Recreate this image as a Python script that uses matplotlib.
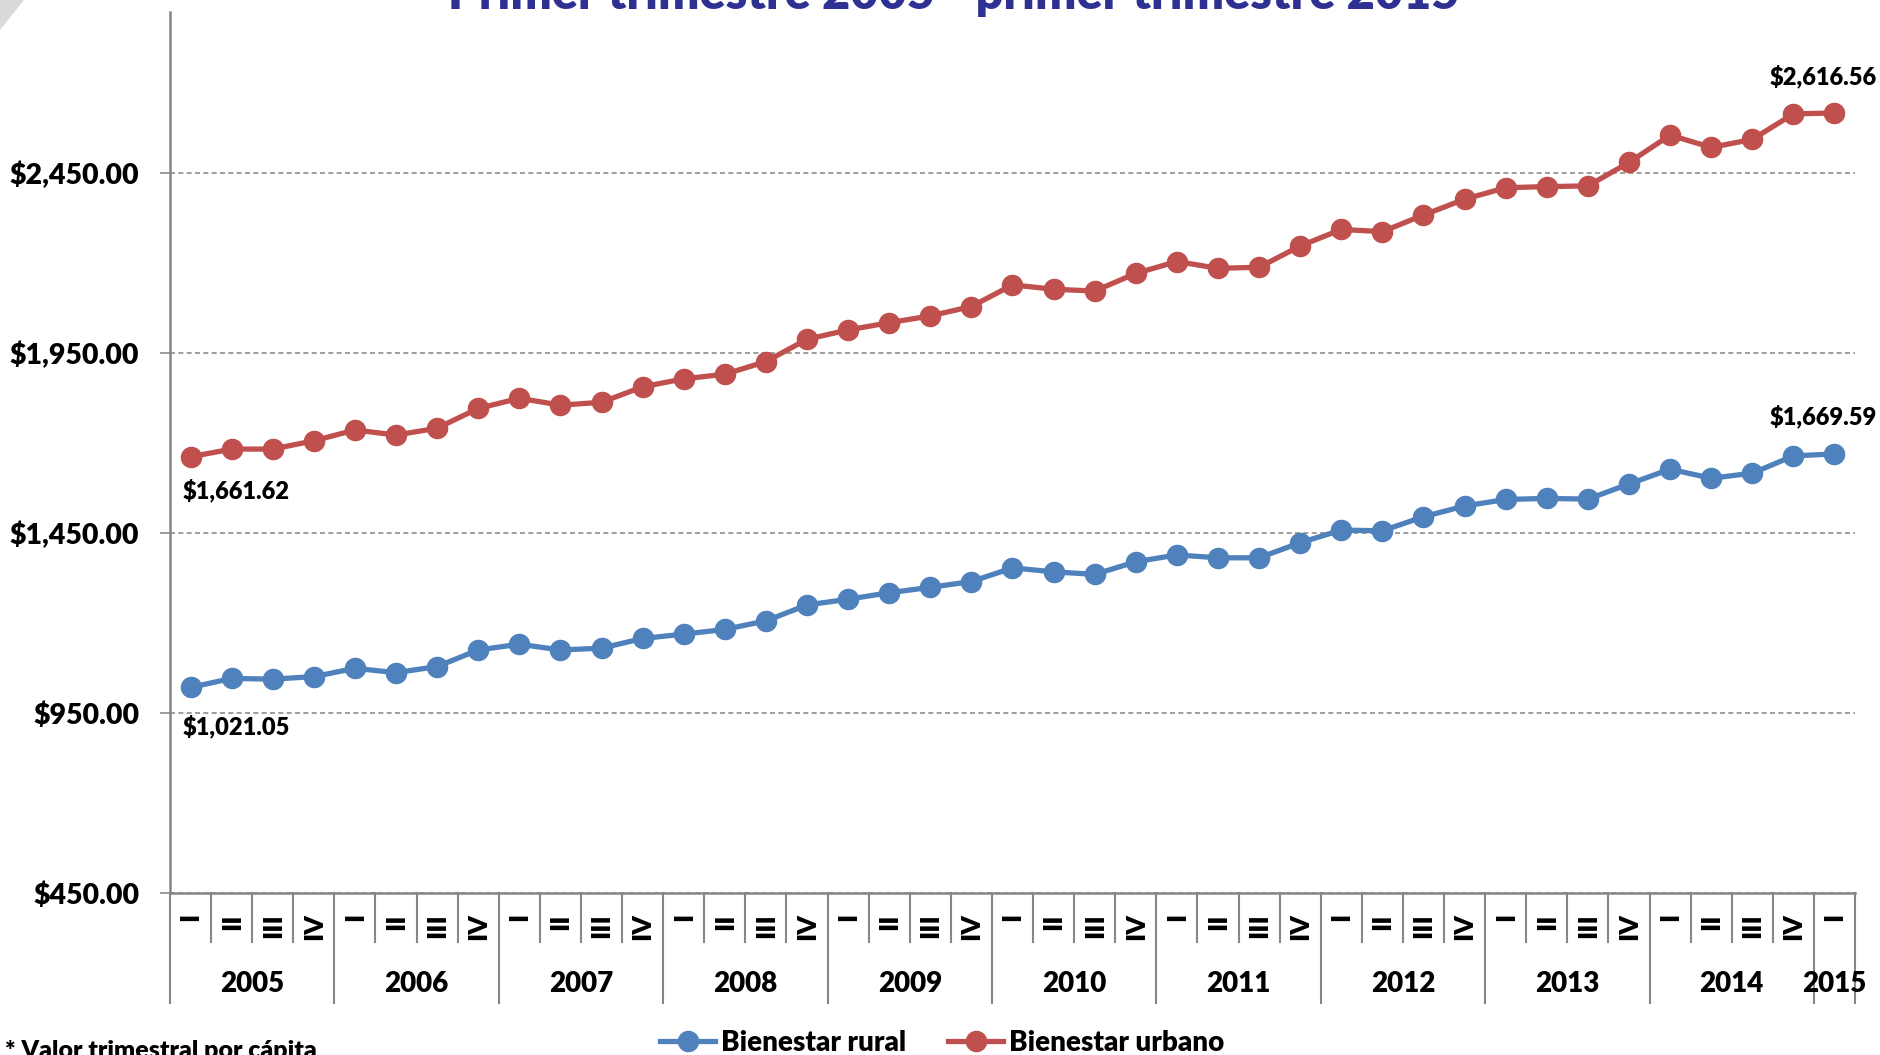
import matplotlib
matplotlib.use('Agg')
import matplotlib.pyplot as plt
from matplotlib.patches import Polygon

plt.rcParams['font.family'] = ['Lato', 'DejaVu Sans']

# ---------------- data ----------------
years = ['2005', '2006', '2007', '2008', '2009', '2010',
         '2011', '2012', '2013', '2014', '2015']
quarters = ['I', 'II', 'III', 'IV']

rural = [1021.05, 1046, 1044, 1051, 1074, 1062, 1079, 1125,
         1141, 1125, 1130, 1157, 1169, 1182, 1206, 1250,
         1266, 1284, 1299, 1315, 1353, 1342, 1335, 1370,
         1389, 1381, 1381, 1423, 1458, 1456, 1495, 1525,
         1543, 1546, 1544, 1586, 1627, 1602, 1616, 1664,
         1669.59]
urbano = [1661.62, 1683, 1683, 1706, 1736, 1722, 1741, 1796,
          1824, 1805, 1813, 1856, 1878, 1891, 1926, 1988,
          2014, 2034, 2053, 2079, 2139, 2127, 2122, 2171,
          2204, 2185, 2188, 2247, 2293, 2287, 2333, 2377,
          2409, 2412, 2414, 2479, 2555, 2521, 2543, 2614,
          2616.56]
yticks = [450, 950, 1450, 1950, 2450]
series_names = ['Bienestar rural', 'Bienestar urbano']
title = 'Primer trimestre 2005 - primer trimestre 2015'
footnote = '* Valor trimestral por cápita'

# ---------------- figure ----------------
W, H = 1881, 1055
fig = plt.figure(figsize=(W / 100, H / 100), dpi=100)
ax = fig.add_axes([170 / W, 1 - 893 / H, (1855 - 170) / W, (893 - 12) / H])

BLUE = '#4F81BD'
RED = '#C0504D'
GRAY = '#8c8c8c'

n = len(rural)
x = list(range(n))
ax.plot(x, rural, color=BLUE, lw=3.8, marker='o', ms=14.5,
        label=series_names[0], zorder=3)
ax.plot(x, urbano, color=RED, lw=3.8, marker='o', ms=14.5,
        label=series_names[1], zorder=3)

ax.set_xlim(-0.5, n - 0.5)
ax.set_ylim(450, 2897)
ax.set_yticks(yticks)
ax.set_yticklabels(['${:,.2f}'.format(v) for v in yticks],
                   fontsize=20.5, fontweight='heavy')
ax.set_xticks([])
ax.yaxis.grid(True, ls=(0, (3, 2)), color=GRAY, lw=1.2)
ax.set_axisbelow(True)
ax.tick_params(axis='y', length=7.2, width=1.2, color=GRAY, pad=15)

for s in ['top', 'right']:
    ax.spines[s].set_visible(False)
for s in ['left', 'bottom']:
    ax.spines[s].set_color('#868686')
    ax.spines[s].set_linewidth(1.8)

# ---------------- category axis ----------------
tr = ax.get_xaxis_transform()
axh = 893 - 12
yq = -(913 - 893) / axh
yy = -(984 - 893) / axh
yqsep = -(942 - 893) / axh
yysep = -(1003 - 893) / axh

for i in range(n):
    ax.text(i, yq, quarters[i % 4], transform=tr, rotation=90,
            ha='center', va='top', fontsize=19, fontweight='heavy')

for k, yr in enumerate(years):
    start = 4 * k
    end = min(4 * k + 3, n - 1)
    cx = (start + end) / 2
    ax.text(cx, yy, yr, transform=tr, ha='center', va='center',
            fontsize=20, fontweight='heavy')

for i in range(n + 1):
    xs = i - 0.5
    long_sep = (i % 4 == 0) or (i == n)
    ax.plot([xs, xs], [0, yysep if long_sep else yqsep], transform=tr,
            clip_on=False, color='#868686', lw=1.5)

# ---------------- data labels ----------------
lab_kw = dict(textcoords='offset pixels', fontsize=17, fontweight='heavy')
ax.annotate('${:,.2f}'.format(urbano[0]), (0, urbano[0]), xytext=(-8, -34),
            ha='left', va='center', **lab_kw)
ax.annotate('${:,.2f}'.format(rural[0]), (0, rural[0]), xytext=(-8, -39),
            ha='left', va='center', **lab_kw)
ax.annotate('${:,.2f}'.format(urbano[-1]), (n - 1, urbano[-1]), xytext=(42, 36),
            ha='right', va='center', annotation_clip=False, **lab_kw)
ax.annotate('${:,.2f}'.format(rural[-1]), (n - 1, rural[-1]), xytext=(42, 37),
            ha='right', va='center', annotation_clip=False, **lab_kw)

# ---------------- legend, title, notes ----------------
fig.legend(loc='center', bbox_to_anchor=(942 / W, 12 / H), ncol=2,
           frameon=False, prop={'weight': 'heavy', 'size': 20},
           handlelength=2.0, handletextpad=0.2, columnspacing=1.5,
           borderaxespad=0, borderpad=0)

fig.text(954 / W, 1 - 9 / H, title, ha='center', va='baseline',
         fontsize=35, fontweight='heavy', color='#2E3192')
fig.text(5 / W, 15 / H, footnote, ha='left', va='top',
         fontsize=18, fontweight='heavy')

fig.patches.append(Polygon([[0, 1], [24 / W, 1], [0, 1 - 30 / H]], closed=True,
                           transform=fig.transFigure, facecolor='#d9d9d9',
                           edgecolor='none'))

fig.savefig('out.png', dpi=100)
